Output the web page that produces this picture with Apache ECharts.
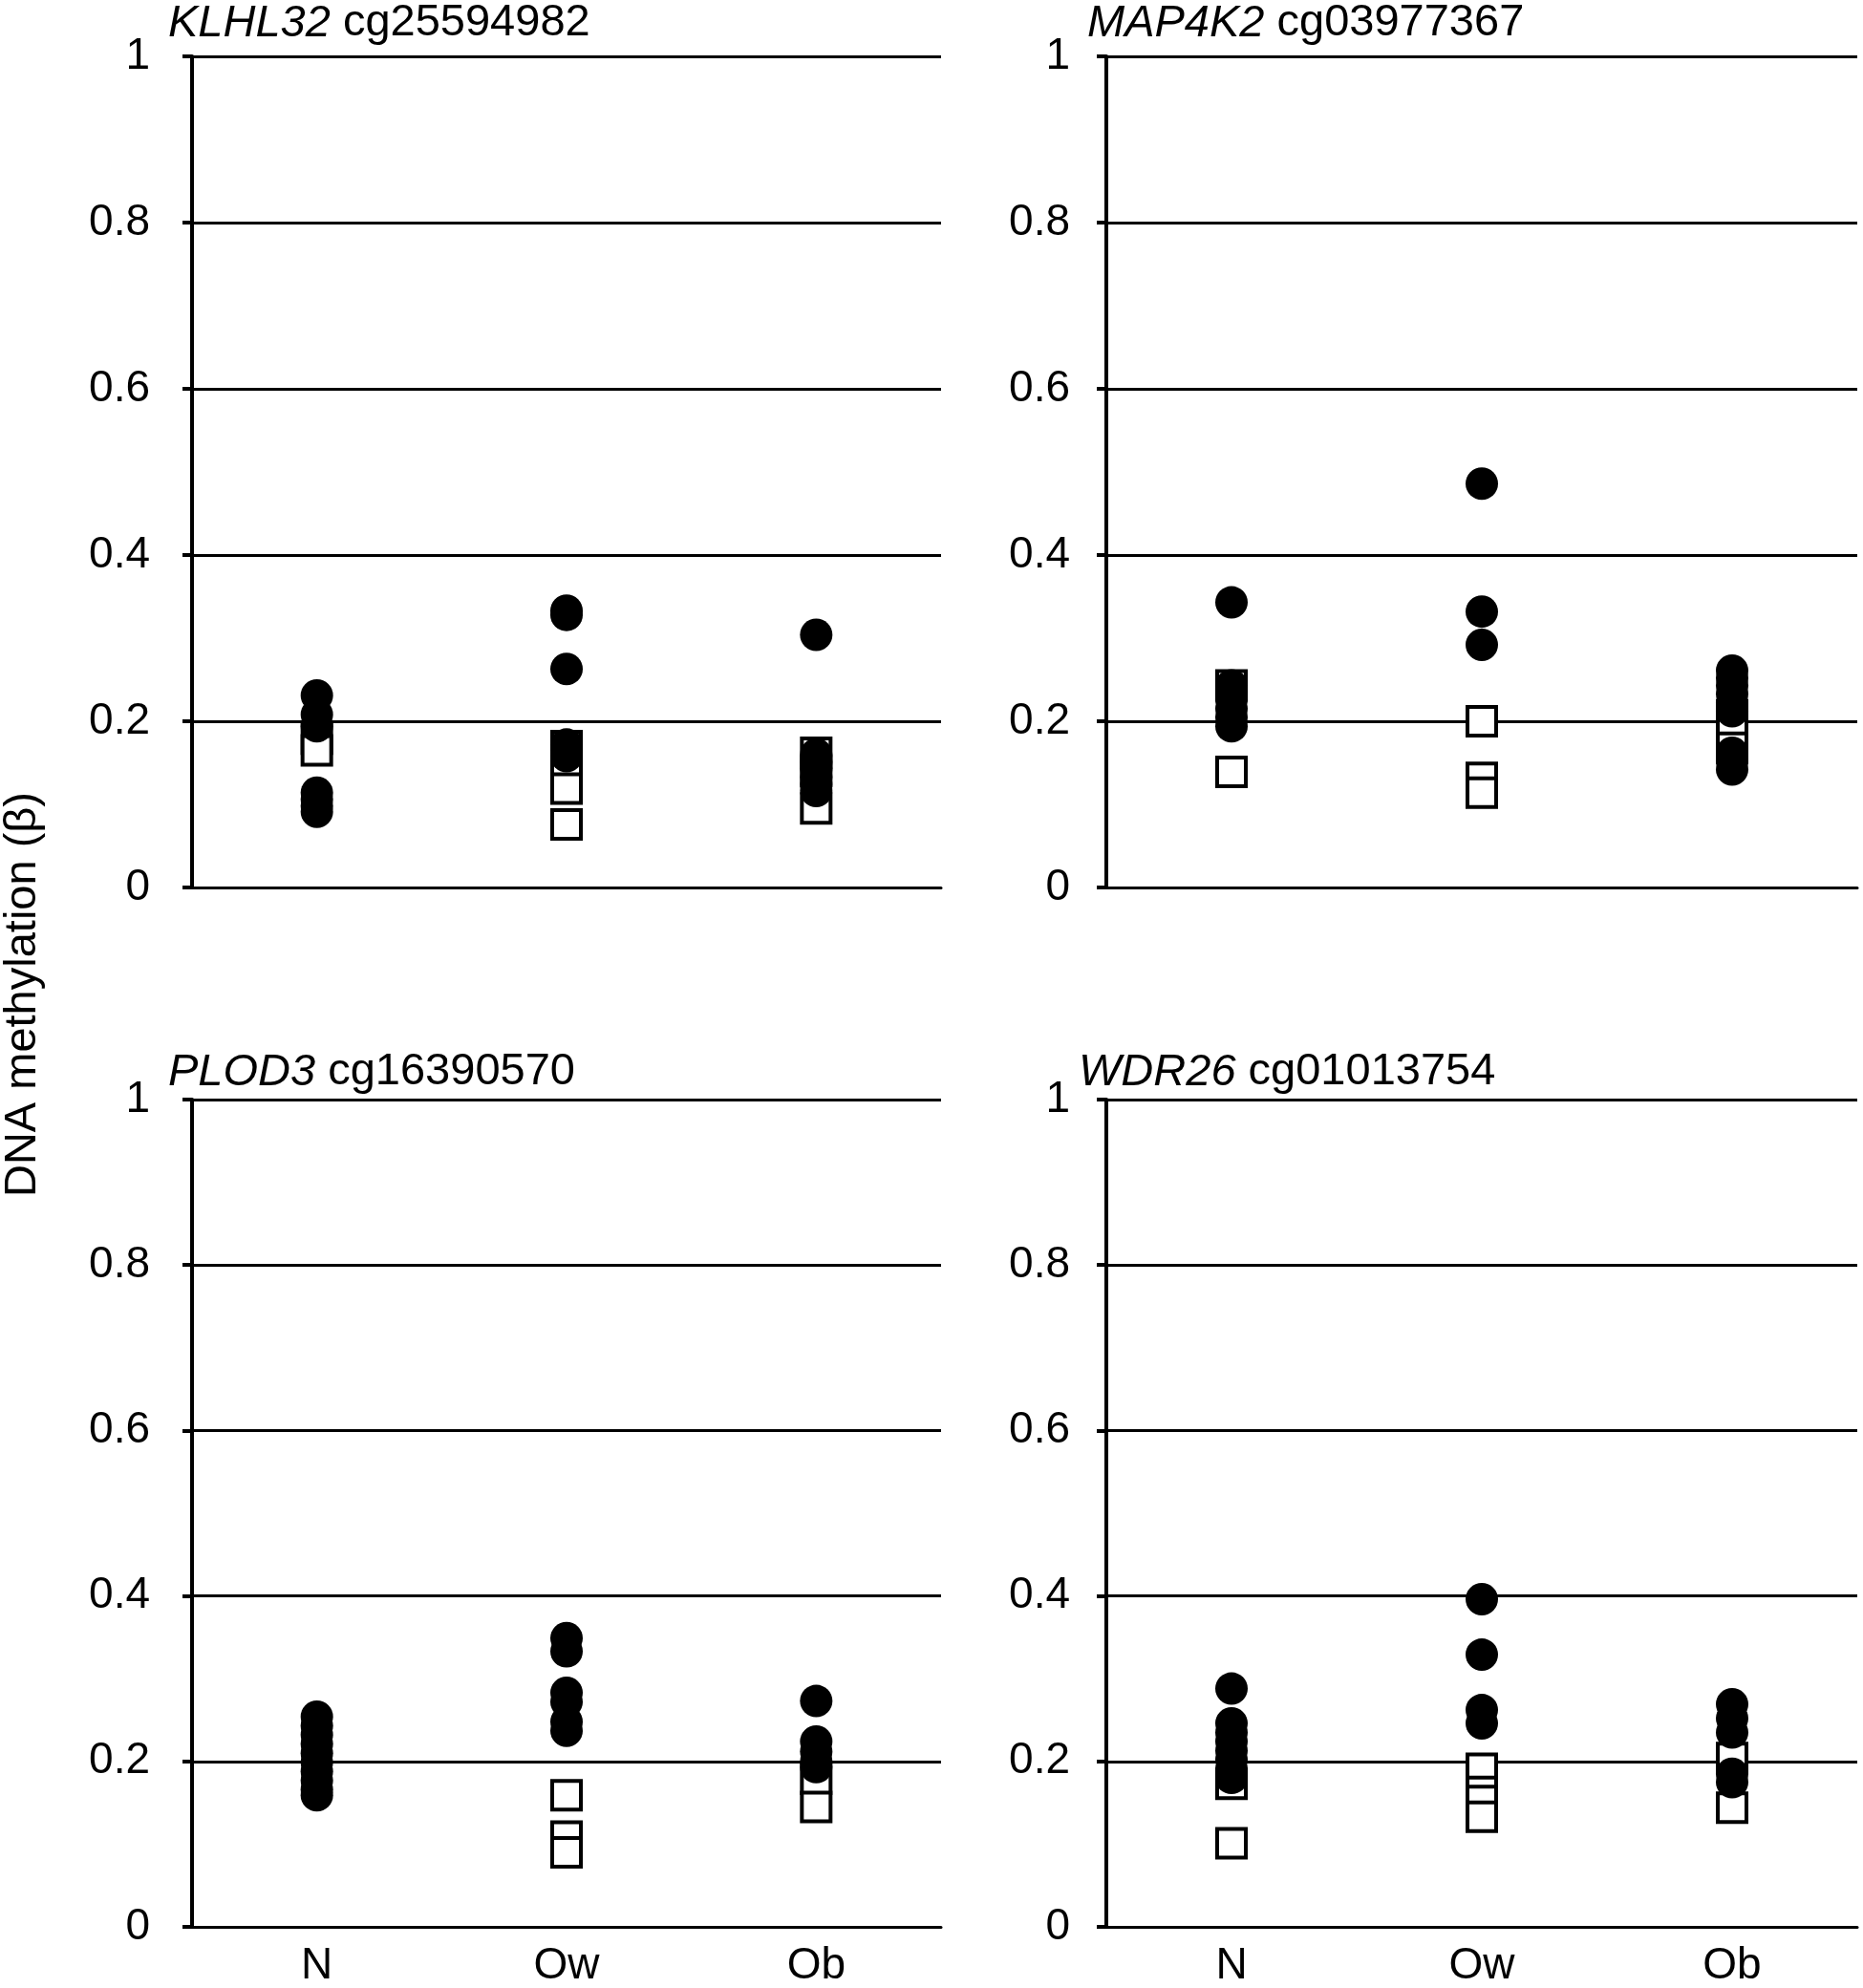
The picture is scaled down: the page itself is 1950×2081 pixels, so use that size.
<!DOCTYPE html>
<html>
<head>
<meta charset="utf-8">
<title>DNA methylation</title>
<script src="https://cdn.jsdelivr.net/npm/echarts@6/dist/echarts.min.js"></script>
<style>
  html, body { margin: 0; padding: 0; background: #fff; }
  #chart { width: 1950px; height: 2081px; }
</style>
</head>
<body>
<div id="chart"></div>
<script>
// groups on the x axis
const groups = ['N', 'Ow', 'Ob'];
const yTicks = [0, 0.2, 0.4, 0.6, 0.8, 1];

// KLHL32 cg25594982
const klhl32Circles = [
  ['N', 0.231], ['N', 0.208], ['N', 0.194], ['N', 0.114], ['N', 0.106], ['N', 0.098], ['N', 0.091],
  ['Ow', 0.333], ['Ow', 0.328], ['Ow', 0.263], ['Ow', 0.172], ['Ow', 0.165], ['Ow', 0.158],
  ['Ob', 0.304], ['Ob', 0.160], ['Ob', 0.151], ['Ob', 0.142], ['Ob', 0.133], ['Ob', 0.124], ['Ob', 0.116]
];
const klhl32Squares = [
  ['N', 0.179], ['N', 0.165],
  ['Ow', 0.170], ['Ow', 0.144], ['Ow', 0.119], ['Ow', 0.076],
  ['Ob', 0.162], ['Ob', 0.140], ['Ob', 0.095]
];

// MAP4K2 cg03977367
const map4k2Circles = [
  ['N', 0.343], ['N', 0.243], ['N', 0.235], ['N', 0.226], ['N', 0.215], ['N', 0.205], ['N', 0.194],
  ['Ow', 0.486], ['Ow', 0.332], ['Ow', 0.292],
  ['Ob', 0.261], ['Ob', 0.252], ['Ob', 0.243], ['Ob', 0.233], ['Ob', 0.222], ['Ob', 0.212],
  ['Ob', 0.162], ['Ob', 0.152], ['Ob', 0.142]
];
const map4k2Squares = [
  ['N', 0.243], ['N', 0.139],
  ['Ow', 0.200], ['Ow', 0.132], ['Ow', 0.114],
  ['Ob', 0.207], ['Ob', 0.185], ['Ob', 0.168]
];

// PLOD3 cg16390570
const plod3Circles = [
  ['N', 0.254], ['N', 0.243], ['N', 0.232], ['N', 0.221], ['N', 0.210], ['N', 0.199],
  ['N', 0.188], ['N', 0.177], ['N', 0.166], ['N', 0.159],
  ['Ow', 0.349], ['Ow', 0.333], ['Ow', 0.283], ['Ow', 0.272], ['Ow', 0.248], ['Ow', 0.237],
  ['Ob', 0.273], ['Ob', 0.224], ['Ob', 0.212], ['Ob', 0.200], ['Ob', 0.193]
];
const plod3Squares = [
  ['Ow', 0.159], ['Ow', 0.109], ['Ow', 0.090],
  ['Ob', 0.179], ['Ob', 0.145]
];

// WDR26 cg01013754
const wdr26Circles = [
  ['N', 0.288], ['N', 0.246], ['N', 0.235], ['N', 0.224], ['N', 0.213], ['N', 0.202],
  ['N', 0.191], ['N', 0.180],
  ['Ow', 0.396], ['Ow', 0.329], ['Ow', 0.262], ['Ow', 0.246],
  ['Ob', 0.269], ['Ob', 0.252], ['Ob', 0.235], ['Ob', 0.185], ['Ob', 0.175]
];
const wdr26Squares = [
  ['N', 0.173], ['N', 0.101],
  ['Ow', 0.191], ['Ow', 0.163], ['Ow', 0.152], ['Ow', 0.133],
  ['Ob', 0.204], ['Ob', 0.144]
];

const panelGenes = ['KLHL32', 'MAP4K2', 'PLOD3', 'WDR26'];
const panelProbes = ['cg25594982', 'cg03977367', 'cg16390570', 'cg01013754'];
const panelCircles = [klhl32Circles, map4k2Circles, plod3Circles, wdr26Circles];
const panelSquares = [klhl32Squares, map4k2Squares, plod3Squares, wdr26Squares];

const font = 'Liberation Sans, Arial, Helvetica, sans-serif';

// panel boxes in px
const grids = [
  { left: 201, right: 965, top: 59, bottom: 1152 },
  { left: 1158, right: 6, top: 59, bottom: 1152 },
  { left: 201, right: 965, top: 1151, bottom: 59 },
  { left: 1158, right: 6, top: 1151, bottom: 59 }
];
const titlePos = [
  { left: 176, top: 1 },
  { left: 1138, top: 1 },
  { left: 176, top: 1099 },
  { left: 1129, top: 1099 }
];

const chart = echarts.init(document.getElementById('chart'));

const option = {
  animation: false,
  backgroundColor: '#fff',
  textStyle: { fontFamily: font },
  title: panelGenes.map((g, i) => ({
    text: '{i|' + g + '} ' + panelProbes[i],
    left: titlePos[i].left,
    top: titlePos[i].top,
    padding: 0,
    textStyle: {
      fontFamily: font, fontSize: 47, fontWeight: 'normal', color: '#000',
      rich: { i: { fontFamily: font, fontSize: 47, fontStyle: 'italic', color: '#000' } }
    }
  })),
  grid: grids,
  xAxis: grids.map((g, i) => ({
    type: 'category',
    gridIndex: i,
    data: groups,
    boundaryGap: true,
    axisLine: { show: true, lineStyle: { color: '#000', width: 3 } },
    axisTick: { show: false },
    splitLine: { show: false },
    axisLabel: {
      show: i >= 2, color: '#000', fontSize: 46, fontFamily: font, margin: 18
    }
  })),
  yAxis: grids.map((g, i) => ({
    type: 'value',
    gridIndex: i,
    min: yTicks[0],
    max: yTicks[yTicks.length - 1],
    interval: 0.2,
    axisLine: { show: true, lineStyle: { color: '#000', width: 4 } },
    axisTick: { show: true, length: 10, lineStyle: { color: '#000', width: 4 } },
    splitLine: { show: true, lineStyle: { color: '#000', width: 3 } },
    axisLabel: {
      color: '#000', fontSize: 46, fontFamily: font,
      margin: i % 2 === 0 ? 44 : 38,
      formatter: v => String(+v.toFixed(1))
    }
  })),
  graphic: [{
    type: 'text',
    x: 24,
    y: 1041,
    rotation: Math.PI / 2,
    style: {
      text: 'DNA methylation (β)',
      font: '47px ' + font,
      fill: '#000',
      textAlign: 'center',
      textVerticalAlign: 'middle'
    }
  }],
  series: []
};

for (let i = 0; i < 4; i++) {
  option.series.push({
    type: 'scatter',
    xAxisIndex: i,
    yAxisIndex: i,
    symbol: 'rect',
    symbolSize: 30,
    z: 3,
    itemStyle: { color: '#fff', borderColor: '#000', borderWidth: 4, opacity: 1 },
    data: panelSquares[i]
  });
  option.series.push({
    type: 'scatter',
    xAxisIndex: i,
    yAxisIndex: i,
    symbol: 'circle',
    symbolSize: 34,
    z: 4,
    itemStyle: { color: '#000', opacity: 1 },
    data: panelCircles[i]
  });
}

chart.setOption(option);
</script>
</body>
</html>
